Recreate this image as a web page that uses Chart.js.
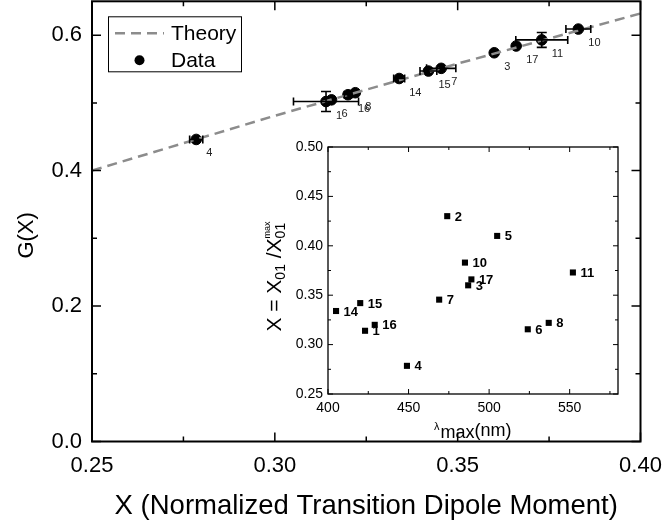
<!DOCTYPE html>
<html>
<head>
<meta charset="utf-8">
<script src="https://cdn.jsdelivr.net/npm/chart.js@4.4.1/dist/chart.umd.min.js"></script>
<style>
  html, body { margin: 0; padding: 0; background: #fff; overflow: hidden; }
  #wrap { position: relative; width: 664px; height: 528px; overflow: hidden; }
  /* raised by the 5px that Chart.js reserves above the point markers */
  #main { position: absolute; left: 0; top: -5px; }
  #inset { position: absolute; left: 250px; top: 130px; }
</style>
</head>
<body>
<div id="wrap">
  <canvas id="main" width="664" height="534"></canvas>
  <canvas id="inset" width="390" height="320"></canvas>
</div>
<script>
const FONT = "'Liberation Sans', Arial, Helvetica, sans-serif";

// one entry per compound
const ids       = ['1', '2', '3', '4', '5', '6', '7', '8', '10', '11', '14', '15', '16', '17'];
const xNorm     = [0.314, 0.430, 0.360, 0.2785, 0.410, 0.3155, 0.3455, 0.322, 0.383, 0.373, 0.334, 0.342, 0.320, 0.366];
const lambdaMax = [423, 474, 487, 449, 505, 524, 469, 537, 485, 552, 405, 420, 429, 489];
// G(X) measured; 2 and 5 lie beyond X = 0.40
const gOfX      = [0.502, null, 0.574, 0.446, null, 0.5045, 0.551, 0.515, 0.609, 0.593, 0.536, 0.547, 0.512, 0.584];
const xErr      = [0.0089, 0, 0, 0.0018, 0, 0, 0.0040, 0, 0.0034, 0.0071, 0.0015, 0.0023, 0.0010, 0];
const gErr      = [0.0148, 0, 0, 0, 0, 0, 0, 0, 0, 0.011, 0, 0, 0, 0];

// theory curve G(X)
const theoryX = [0.25, 0.30, 0.35, 0.40];
const theoryG = [0.400, 0.481, 0.558, 0.632];

// axis ticks (every other one labelled)
const mainXTicks  = [0.25, 0.275, 0.30, 0.325, 0.35, 0.375, 0.40];
const mainYTicks  = [0, 0.1, 0.2, 0.3, 0.4, 0.5, 0.6];
const insetXTicks = [400, 425, 450, 475, 500, 525, 550, 575];
const insetYTicks = [0.25, 0.275, 0.30, 0.325, 0.35, 0.375, 0.40, 0.425, 0.45, 0.475, 0.50];

const mainPts = [];
ids.forEach((id, i) => {
  if (gOfX[i] !== null) mainPts.push({ x: xNorm[i], y: gOfX[i], id, ex: xErr[i], ey: gErr[i] });
});
const insetPts = ids.map((id, i) => ({ x: lambdaMax[i], y: xNorm[i], id }));

// fixed axis boxes, no extra room for overhanging labels
const fixWidth = w => s => { s.width = w; s.paddingTop = 0; s.paddingBottom = 0; };
const fixHeight = h => s => { s.height = h; s.paddingLeft = 0; s.paddingRight = 0; };

// closed frame with inward tick marks on all four sides
const framePlugin = {
  id: 'frame',
  afterDraw(chart, args, opts) {
    const { ctx, chartArea: a, scales } = chart;
    ctx.save();
    ctx.strokeStyle = '#000';
    ctx.lineWidth = opts.width;
    ctx.strokeRect(a.left, a.top, a.right - a.left, a.bottom - a.top);
    ctx.lineWidth = opts.tickWidth;
    ctx.beginPath();
    scales.x.ticks.forEach((t, i) => {
      const px = scales.x.getPixelForValue(t.value);
      const len = i % 2 === 0 ? opts.major : opts.minor;
      ctx.moveTo(px, a.bottom); ctx.lineTo(px, a.bottom - len);
      ctx.moveTo(px, a.top); ctx.lineTo(px, a.top + len);
    });
    scales.y.ticks.forEach((t, i) => {
      const py = scales.y.getPixelForValue(t.value);
      const len = i % 2 === 0 ? opts.major : opts.minor;
      ctx.moveTo(a.left, py); ctx.lineTo(a.left + len, py);
      ctx.moveTo(a.right, py); ctx.lineTo(a.right - len, py);
    });
    ctx.stroke();
    ctx.restore();
  }
};

// error bars and sample numbers on the main plot
const mainMarks = {
  id: 'mainMarks',
  afterDatasetsDraw(chart) {
    const { ctx, chartArea: a, scales: { x, y } } = chart;
    ctx.save();
    ctx.strokeStyle = '#000';
    ctx.lineWidth = 1.6;
    mainPts.forEach(p => {
      const px = x.getPixelForValue(p.x), py = y.getPixelForValue(p.y);
      ctx.beginPath();
      if (p.ex) {
        const l = x.getPixelForValue(p.x - p.ex), r = x.getPixelForValue(p.x + p.ex);
        ctx.moveTo(l, py); ctx.lineTo(r, py);
        ctx.moveTo(l, py - 4); ctx.lineTo(l, py + 4);
        ctx.moveTo(r, py - 4); ctx.lineTo(r, py + 4);
      }
      if (p.ey) {
        const t = y.getPixelForValue(p.y + p.ey), b = y.getPixelForValue(p.y - p.ey);
        ctx.moveTo(px, t); ctx.lineTo(px, b);
        ctx.moveTo(px - 5, t); ctx.lineTo(px + 5, t);
        ctx.moveTo(px - 5, b); ctx.lineTo(px + 5, b);
      }
      ctx.stroke();
    });
    ctx.fillStyle = '#222';
    ctx.font = '11px ' + FONT;
    ctx.textBaseline = 'middle';
    mainPts.forEach(p => {
      ctx.fillText(p.id, x.getPixelForValue(p.x) + 10, y.getPixelForValue(p.y) + 14);
    });

    // y axis title
    ctx.fillStyle = '#000';
    ctx.font = '22px ' + FONT;
    ctx.textAlign = 'center';
    ctx.translate(27, (a.top + a.bottom) / 2 + 14);
    ctx.rotate(-Math.PI / 2);
    ctx.fillText('G(X)', 0, 0);
    ctx.restore();
  }
};

// boxed legend in the upper left corner
const boxLegend = {
  id: 'boxLegend',
  afterDraw(chart) {
    const { ctx, chartArea: a } = chart;
    const [theory, data] = chart.data.datasets;
    const L = a.left + 16, T = a.top + 15;
    ctx.save();
    ctx.fillStyle = '#fff';
    ctx.fillRect(L, T, 134, 56);
    ctx.strokeStyle = '#000';
    ctx.lineWidth = 1;
    ctx.strokeRect(L + 0.5, T + 0.5, 133, 55);
    ctx.strokeStyle = theory.borderColor;
    ctx.lineWidth = theory.borderWidth;
    ctx.setLineDash(theory.borderDash);
    ctx.beginPath();
    ctx.moveTo(L + 7, T + 17); ctx.lineTo(L + 56, T + 17);
    ctx.stroke();
    ctx.setLineDash([]);
    ctx.fillStyle = data.backgroundColor;
    ctx.beginPath();
    ctx.arc(L + 31.5, T + 44, 5, 0, Math.PI * 2);
    ctx.fill();
    ctx.fillStyle = '#000';
    ctx.font = '21px ' + FONT;
    ctx.textBaseline = 'middle';
    ctx.fillText(theory.label, L + 63, T + 18);
    ctx.fillText(data.label, L + 63, T + 45);
    ctx.restore();
  }
};

new Chart(document.getElementById('main'), {
  type: 'scatter',
  data: {
    datasets: [
      {
        label: 'Theory',
        data: theoryX.map((v, i) => ({ x: v, y: theoryG[i] })),
        showLine: true,
        borderColor: '#8c8c8c',
        borderWidth: 2.5,
        borderDash: [10, 6],
        pointRadius: 0,
        fill: false
      },
      {
        label: 'Data',
        data: mainPts,
        backgroundColor: '#000',
        borderColor: '#000',
        pointRadius: 5.3
      }
    ]
  },
  options: {
    responsive: false,
    animation: false,
    layout: { padding: { top: 1, right: 23.5 } },
    plugins: {
      legend: { display: false },
      tooltip: { enabled: false },
      frame: { width: 2, tickWidth: 1.5, major: 9, minor: 5 }
    },
    scales: {
      x: {
        type: 'linear',
        min: 0.25,
        max: 0.40,
        afterBuildTicks: s => { s.ticks = mainXTicks.map(v => ({ value: v })); },
        afterFit: fixHeight(87.5),
        grid: { display: false, drawTicks: false },
        border: { display: false },
        ticks: {
          autoSkip: false,
          maxRotation: 0,
          padding: 11,
          color: '#000',
          font: { family: FONT, size: 22 },
          callback: (v, i) => i % 2 === 0 ? v.toFixed(2) : ''
        },
        title: {
          display: true,
          text: 'X (Normalized Transition Dipole Moment)',
          color: '#000',
          font: { family: FONT, size: 27.5 },
          padding: { top: 0, bottom: 6 }
        }
      },
      y: {
        type: 'linear',
        min: 0,
        max: 0.65,
        afterBuildTicks: s => { s.ticks = mainYTicks.map(v => ({ value: v })); },
        afterFit: fixWidth(92),
        grid: { display: false, drawTicks: false },
        border: { display: false },
        ticks: {
          autoSkip: false,
          padding: 10,
          color: '#000',
          font: { family: FONT, size: 22 },
          callback: (v, i) => i % 2 === 0 ? v.toFixed(1) : ''
        }
      }
    }
  },
  plugins: [mainMarks, framePlugin, boxLegend]
});

// inset: point numbers and the two composite axis titles
const insetMarks = {
  id: 'insetMarks',
  afterDatasetsDraw(chart) {
    const { ctx, chartArea: a, scales: { x, y } } = chart;
    ctx.save();
    ctx.fillStyle = '#000';
    ctx.font = 'bold 13px ' + FONT;
    ctx.textBaseline = 'middle';
    insetPts.forEach(p => {
      ctx.fillText(p.id, x.getPixelForValue(p.x) + 7.5, y.getPixelForValue(p.y) + 1);
    });

    // x title: lambda_max(nm)
    ctx.textBaseline = 'alphabetic';
    let cx = (a.left + a.right) / 2 - 39;
    const base = a.bottom + 42;
    ctx.font = '11px ' + FONT;
    ctx.fillText('\u03bb', cx, base - 6);
    cx += ctx.measureText('\u03bb').width + 1;
    ctx.font = '18px ' + FONT;
    ctx.fillText('max', cx, base + 2);
    cx += ctx.measureText('max').width;
    ctx.fillText('(nm)', cx, base);

    // y title: X = X01 / X01^max
    ctx.translate(a.left - 55, (a.top + a.bottom) / 2 + 6);
    ctx.rotate(-Math.PI / 2);
    const parts = [
      { t: 'X = X', size: 21, dy: 0 },
      { t: '01', size: 14, dy: 4 },
      { t: ' /X', size: 21, dy: 0 },
      { t: '01', size: 14, dy: 4, keep: true },
      { t: 'max', size: 9, dy: -11 }
    ];
    let total = 0;
    parts.forEach(p => {
      ctx.font = p.size + 'px ' + FONT;
      p.w = ctx.measureText(p.t).width;
      if (!p.keep) total += p.w;
    });
    let tx = -total / 2;
    parts.forEach(p => {
      ctx.font = p.size + 'px ' + FONT;
      ctx.fillText(p.t, tx, 7.5 + p.dy);
      if (!p.keep) tx += p.w;
    });
    ctx.restore();
  }
};

new Chart(document.getElementById('inset'), {
  type: 'scatter',
  data: {
    datasets: [{
      data: insetPts,
      pointStyle: 'rect',
      pointRadius: 4.3,
      backgroundColor: '#000',
      borderColor: '#000',
      borderWidth: 0
    }]
  },
  options: {
    responsive: false,
    animation: false,
    layout: { padding: { top: 17, right: 22 } },
    plugins: {
      legend: { display: false },
      tooltip: { enabled: false },
      frame: { width: 1.3, tickWidth: 1, major: 5, minor: 3 }
    },
    scales: {
      x: {
        type: 'linear',
        min: 400,
        max: 580,
        afterBuildTicks: s => { s.ticks = insetXTicks.map(v => ({ value: v })); },
        afterFit: fixHeight(56),
        grid: { display: false, drawTicks: false },
        border: { display: false },
        ticks: {
          autoSkip: false,
          maxRotation: 0,
          padding: 6,
          color: '#000',
          font: { family: FONT, size: 14 },
          callback: (v, i) => i % 2 === 0 ? String(v) : ''
        }
      },
      y: {
        type: 'linear',
        min: 0.25,
        max: 0.50,
        afterBuildTicks: s => { s.ticks = insetYTicks.map(v => ({ value: v })); },
        afterFit: fixWidth(78),
        grid: { display: false, drawTicks: false },
        border: { display: false },
        ticks: {
          autoSkip: false,
          padding: 5,
          color: '#000',
          font: { family: FONT, size: 14 },
          callback: (v, i) => i % 2 === 0 ? v.toFixed(2) : ''
        }
      }
    }
  },
  plugins: [insetMarks, framePlugin]
});
</script>
</body>
</html>
